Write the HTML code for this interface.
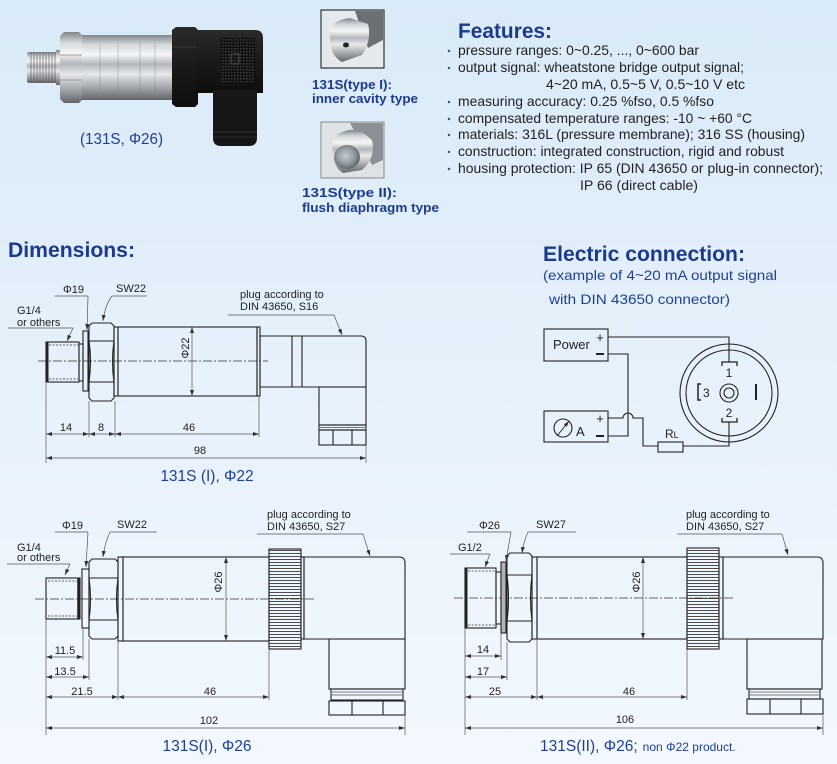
<!DOCTYPE html>
<html><head><meta charset="utf-8"><style>
html,body{margin:0;padding:0;}
body{width:837px;height:764px;overflow:hidden;background:linear-gradient(#d9eaf8,#f3f8fe);}
svg{display:block;font-family:"Liberation Sans",sans-serif;}
.o{fill:none;stroke:#222;stroke-width:1.1}
.d{fill:none;stroke:#555;stroke-width:0.7}
.t{font-size:11px;fill:#222}
.c{stroke:#333;stroke-width:0.8;stroke-dasharray:9 2 2 2;fill:none}
.cap{font-size:15.5px;fill:#1e3f96}
.f{font-size:14px;fill:#222}
.h{font-weight:bold;font-size:21px;fill:#1b3a8c}
</style></head><body>
<svg width="837" height="764" viewBox="0 0 837 764">
<defs>
<marker id="ar" viewBox="0 0 6 4" refX="6" refY="2" markerWidth="6" markerHeight="4" orient="auto-start-reverse" markerUnits="userSpaceOnUse"><path d="M0,0L6,2L0,4z" fill="#333"/></marker>
<linearGradient id="metal" x1="0" y1="0" x2="0" y2="1">
<stop offset="0" stop-color="#7f858a"/><stop offset="0.15" stop-color="#d5d9dc"/><stop offset="0.3" stop-color="#f4f5f6"/><stop offset="0.45" stop-color="#b4b8bc"/><stop offset="0.6" stop-color="#e6e8ea"/><stop offset="0.82" stop-color="#9ea2a6"/><stop offset="1" stop-color="#62666a"/>
</linearGradient>
<linearGradient id="blk" x1="0" y1="0" x2="0" y2="1">
<stop offset="0" stop-color="#2a2a2a"/><stop offset="0.5" stop-color="#1a1a1a"/><stop offset="1" stop-color="#0e0e0e"/>
</linearGradient>
<radialGradient id="dia" cx="0.45" cy="0.45" r="0.6"><stop offset="0" stop-color="#c8ced3"/><stop offset="0.6" stop-color="#8d959b"/><stop offset="1" stop-color="#555b60"/></radialGradient>
<pattern id="grid" width="3" height="3" patternUnits="userSpaceOnUse"><rect width="3" height="3" fill="#111"/><rect width="1.5" height="1.5" fill="#3d3d3d"/></pattern>
<pattern id="kn" width="4" height="3" patternUnits="userSpaceOnUse"><line x1="0" y1="1.5" x2="4" y2="1.5" stroke="#222" stroke-width="0.8"/></pattern>
<pattern id="thr" width="3" height="4" patternUnits="userSpaceOnUse"><rect width="3" height="4" fill="none"/><line x1="1" y1="0" x2="1" y2="4" stroke="#555" stroke-width="0.9"/></pattern>
</defs>

<!-- ===== top photo ===== -->
<g>
<rect x="27" y="52" width="31" height="31" rx="2" fill="url(#metal)"/>
<rect x="29" y="52" width="29" height="31" fill="url(#thr)" opacity="0.7"/>
<rect x="56" y="50" width="6" height="35" fill="url(#metal)"/>
<path d="M60,36 L64,32 H79 L83,36 V99 L79,103 H64 L60,99 Z" fill="url(#metal)"/>
<line x1="60" y1="55" x2="83" y2="55" stroke="#888" stroke-width="0.8"/>
<line x1="60" y1="80" x2="83" y2="80" stroke="#888" stroke-width="0.8"/>
<rect x="82" y="35" width="91" height="65" fill="url(#metal)"/>
<g stroke="#777" stroke-width="0.6" opacity="0.6"><line x1="100" y1="45" x2="100" y2="90"/><line x1="118" y1="42" x2="118" y2="92"/><line x1="140" y1="42" x2="140" y2="92"/><line x1="155" y1="42" x2="155" y2="92"/></g>
<path d="M172,30 L176,27 H195 L198,30 V104 L195,107 H176 L172,104 Z" fill="url(#blk)"/>
<line x1="172" y1="47" x2="198" y2="47" stroke="#3a3a3a"/>
<path d="M196,30 H255 Q263,30 263,38 V93 H196 Z" fill="url(#blk)"/>
<rect x="220" y="38" width="35" height="44" fill="url(#grid)"/>
<rect x="231" y="54" width="8" height="10" fill="none" stroke="#555" stroke-width="0.8"/>
<path d="M213,90 H257 V138 Q257,146 249,146 H221 Q213,146 213,138 Z" fill="#161616"/>
<line x1="213" y1="132" x2="257" y2="132" stroke="#333"/>
<line x1="213" y1="137" x2="257" y2="137" stroke="#2c2c2c"/>
</g>
<text x="80" y="144" class="cap" font-size="15px" textLength="83" lengthAdjust="spacingAndGlyphs">(131S, Φ26)</text>

<!-- small photos -->
<rect x="321" y="10" width="63" height="58" fill="#e4e9ed" stroke="#111" stroke-width="1"/>
<path d="M355,11 L383,11 L383,40 L368,48 Z" fill="#6b7075"/>
<path d="M330,30 Q333,20 350,18 L368,24 Q372,40 362,55 L342,62 Q328,55 330,30 Z" fill="url(#metal)"/>
<ellipse cx="346" cy="45" rx="3" ry="2.5" fill="#222"/>
<text x="312" y="89" font-weight="bold" font-size="13px" fill="#1b3a8c" textLength="80" lengthAdjust="spacingAndGlyphs">131S(type I):</text>
<text x="312" y="103" font-weight="bold" font-size="13px" fill="#1b3a8c" textLength="106" lengthAdjust="spacingAndGlyphs">inner cavity type</text>

<rect x="321" y="122" width="63" height="56" fill="#dde2e6" stroke="#8a8a8a" stroke-width="1"/>
<path d="M350,123 L383,123 L383,160 L372,165 Z" fill="#8a9095"/>
<path d="M333,140 Q340,128 360,130 L372,140 Q376,158 362,170 L343,173 Q330,165 333,140 Z" fill="url(#metal)"/>
<ellipse cx="347" cy="157" rx="13" ry="12" fill="url(#dia)"/>
<text x="302" y="197" font-weight="bold" font-size="13px" fill="#1b3a8c" textLength="95" lengthAdjust="spacingAndGlyphs">131S(type II):</text>
<text x="302" y="212" font-weight="bold" font-size="13px" fill="#1b3a8c" textLength="137" lengthAdjust="spacingAndGlyphs">flush diaphragm type</text>

<!-- features -->
<text x="458" y="38" class="h" textLength="94" lengthAdjust="spacingAndGlyphs">Features:</text>
<g fill="#3a4f8a">
<circle cx="449" cy="51" r="1.2"/><circle cx="449" cy="68" r="1.2"/><circle cx="449" cy="102" r="1.2"/><circle cx="449" cy="119" r="1.2"/><circle cx="449" cy="135" r="1.2"/><circle cx="449" cy="152" r="1.2"/><circle cx="449" cy="169" r="1.2"/>
</g>
<text x="458" y="55" class="f" textLength="241" lengthAdjust="spacingAndGlyphs">pressure ranges: 0~0.25, ..., 0~600 bar</text>
<text x="458" y="72" class="f" textLength="286" lengthAdjust="spacingAndGlyphs">output signal: wheatstone bridge output signal;</text>
<text x="546" y="89" class="f" textLength="199" lengthAdjust="spacingAndGlyphs">4~20 mA, 0.5~5 V, 0.5~10 V etc</text>
<text x="458" y="106" class="f" textLength="256" lengthAdjust="spacingAndGlyphs">measuring accuracy: 0.25 %fso, 0.5 %fso</text>
<text x="458" y="123" class="f" textLength="294" lengthAdjust="spacingAndGlyphs">compensated temperature ranges: -10 ~ +60 °C</text>
<text x="458" y="139" class="f" textLength="347" lengthAdjust="spacingAndGlyphs">materials: 316L (pressure membrane); 316 SS (housing)</text>
<text x="458" y="156" class="f" textLength="326" lengthAdjust="spacingAndGlyphs">construction: integrated construction, rigid and robust</text>
<text x="458" y="173" class="f" textLength="365" lengthAdjust="spacingAndGlyphs">housing protection: IP 65 (DIN 43650 or plug-in connector);</text>
<text x="580" y="190" class="f" textLength="118" lengthAdjust="spacingAndGlyphs">IP 66 (direct cable)</text>

<!-- headings -->
<text x="8" y="257" class="h" textLength="127" lengthAdjust="spacingAndGlyphs">Dimensions:</text>
<text x="543" y="261" class="h" textLength="202" lengthAdjust="spacingAndGlyphs">Electric connection:</text>
<text x="543" y="280" font-size="14px" fill="#1e3f96" textLength="234" lengthAdjust="spacingAndGlyphs">(example of 4~20 mA output signal</text>
<text x="549" y="304" font-size="14px" fill="#1e3f96" textLength="181" lengthAdjust="spacingAndGlyphs">with DIN 43650 connector)</text>

<!-- ===== Diagram 1 ===== -->
<g>
<line x1="38" y1="361" x2="268" y2="361" class="c"/>
<rect x="46" y="342" width="33" height="40" class="o"/>
<line x1="47.5" y1="342" x2="47.5" y2="382" stroke="#222" stroke-width="2"/>
<line x1="49" y1="345" x2="78" y2="345" stroke="#333" stroke-width="0.8" stroke-dasharray="2 1.5"/>
<line x1="49" y1="379" x2="78" y2="379" stroke="#333" stroke-width="0.8" stroke-dasharray="2 1.5"/>
<rect x="79" y="344" width="4" height="37" class="o"/>
<rect x="83" y="331" width="5" height="60" class="o"/>
<path d="M92,323 H111 L114,326 V398 L111,401 H92 L89,398 V326 Z" class="o"/>
<line x1="89" y1="341" x2="114" y2="341" class="o"/><line x1="89" y1="382" x2="114" y2="382" class="o"/>
<path d="M89,341 Q92,361 89,382 M114,341 Q111,361 114,382" class="o" stroke-width="0.8"/>
<rect x="114" y="327" width="4" height="69" class="o"/>
<rect x="118" y="327" width="139" height="69" class="o"/>
<rect x="257" y="327" width="3" height="69" class="o"/>
<path d="M260,336 H361 Q366,336 366,341 V387 H260 Z" class="o"/>
<line x1="292" y1="336" x2="292" y2="387" class="o"/><line x1="302" y1="336" x2="302" y2="387" class="o"/>
<rect x="319" y="387" width="47" height="38" class="o"/>
<rect x="319" y="425" width="47" height="5" class="o"/><line x1="320" y1="427.5" x2="365" y2="427.5" stroke="#555" stroke-width="0.7"/>
<rect x="319" y="430" width="47" height="15" class="o"/>
<line x1="333" y1="430" x2="333" y2="445" class="o"/><line x1="352" y1="430" x2="352" y2="445" class="o"/>
<line x1="192" y1="327" x2="192" y2="396" class="d" marker-start="url(#ar)" marker-end="url(#ar)"/>
<text transform="translate(189,348) rotate(-90)" class="t" text-anchor="middle">Φ22</text>
<line x1="46" y1="382" x2="46" y2="463" class="d"/>
<line x1="89" y1="401" x2="89" y2="437" class="d"/>
<line x1="115" y1="401" x2="115" y2="437" class="d"/>
<line x1="259" y1="396" x2="259" y2="437" class="d"/>
<line x1="366" y1="445" x2="366" y2="463" class="d"/>
<line x1="46" y1="434" x2="89" y2="434" class="d" marker-start="url(#ar)" marker-end="url(#ar)"/>
<line x1="89" y1="434" x2="115" y2="434" class="d" marker-start="url(#ar)" marker-end="url(#ar)"/>
<line x1="115" y1="434" x2="259" y2="434" class="d" marker-start="url(#ar)" marker-end="url(#ar)"/>
<line x1="46" y1="458" x2="366" y2="458" class="d" marker-start="url(#ar)" marker-end="url(#ar)"/>
<text x="66" y="431" class="t" text-anchor="middle">14</text>
<text x="101" y="431" class="t" text-anchor="middle">8</text>
<text x="189" y="431" class="t" text-anchor="middle">46</text>
<text x="200" y="454" class="t" text-anchor="middle">98</text>
<text x="63" y="293" class="t">Φ19</text>
<line x1="55" y1="296" x2="88" y2="296" class="d"/><line x1="88" y1="296" x2="87" y2="330" class="d" marker-end="url(#ar)"/>
<text x="116" y="292" class="t">SW22</text>
<line x1="112" y1="296" x2="147" y2="296" class="d"/><path d="M112,296 Q105,305 103,321" class="d" marker-end="url(#ar)"/>
<text x="17" y="314" class="t">G1/4</text><text x="17" y="326" class="t">or others</text>
<line x1="8" y1="328" x2="73" y2="328" class="d"/><line x1="73" y1="328" x2="67" y2="341" class="d" marker-end="url(#ar)"/>
<text x="240" y="298" class="t">plug according to</text><text x="240" y="310" class="t">DIN 43650, S16</text>
<line x1="228" y1="315" x2="334" y2="315" class="d"/><line x1="334" y1="315" x2="342" y2="335" class="d" marker-end="url(#ar)"/>
<text x="207" y="481" class="cap" text-anchor="middle">131S (I), Φ22</text>
</g>

<!-- ===== Electric connection ===== -->
<g class="o" stroke-width="1">
<rect x="544" y="329" width="64" height="32"/>
<rect x="544" y="411" width="64" height="31"/>
<circle cx="563" cy="428" r="9"/>
<path d="M608,337 H729 V362"/>
<path d="M608,354 H628 V436 H608"/>
<path d="M608,418 H623 A5,5 0 0 1 633,418 H643 V446 H658"/>
<rect x="658" y="442" width="25" height="10"/>
<path d="M683,446 H729 V422"/>
<circle cx="729" cy="393" r="49"/>
<circle cx="729" cy="393" r="43"/>
<circle cx="729" cy="393" r="9"/>
<circle cx="729" cy="393" r="5"/>
<path d="M722,366 V362 H737 V366" stroke-width="1.3"/>
<path d="M722,418 V422 H737 V418" stroke-width="1.3"/>
<path d="M701,384 H698 V400 H701" stroke-width="1.5"/>
</g>
<line x1="557" y1="436" x2="569" y2="421" stroke="#222" stroke-width="1" marker-end="url(#ar)"/>
<line x1="756" y1="384" x2="756" y2="400" stroke="#222" stroke-width="2"/>
<text x="553" y="349" font-size="13px" fill="#222">Power</text>
<text x="600" y="342" font-size="13px" fill="#222" text-anchor="middle">+</text>
<rect x="596" y="353" width="8" height="2" fill="#222"/>
<text x="600" y="423" font-size="13px" fill="#222" text-anchor="middle">+</text>
<rect x="596" y="435" width="8" height="2" fill="#222"/>
<text x="576" y="436" font-size="13px" fill="#222">A</text>
<text x="665" y="438" font-size="12px" fill="#222">R<tspan font-size="9px">L</tspan></text>
<text x="729" y="377" font-size="12px" fill="#222" text-anchor="middle">1</text>
<text x="729" y="417" font-size="12px" fill="#222" text-anchor="middle">2</text>
<text x="703" y="397" font-size="12px" fill="#222">3</text>

<!-- ===== Diagram 2 ===== -->
<g>
<line x1="35" y1="599" x2="315" y2="599" class="c"/>
<rect x="46" y="578" width="34" height="41" class="o"/>
<line x1="78.5" y1="578" x2="78.5" y2="619" stroke="#222" stroke-width="2.5"/>
<line x1="48" y1="581" x2="77" y2="581" stroke="#333" stroke-width="0.8" stroke-dasharray="2 1.5"/>
<line x1="48" y1="616" x2="77" y2="616" stroke="#333" stroke-width="0.8" stroke-dasharray="2 1.5"/>
<rect x="82" y="569" width="7" height="59" class="o"/>
<path d="M92,559 H115 L118,562 V636 L115,639 H92 L89,636 V562 Z" class="o"/>
<line x1="89" y1="578" x2="118" y2="578" class="o"/><line x1="89" y1="620" x2="118" y2="620" class="o"/>
<path d="M89,578 Q92,599 89,620 M118,578 Q115,599 118,620" class="o" stroke-width="0.8"/>
<rect x="118" y="557" width="5" height="84" class="o"/>
<rect x="123" y="557" width="146" height="84" class="o"/>
<rect x="269" y="549" width="32" height="100" fill="url(#kn)" stroke="#222" stroke-width="1.1"/>
<rect x="301" y="557" width="3" height="82" class="o"/>
<path d="M304,557 H399 Q405,557 405,563 V639 H304 Z" class="o"/>
<rect x="329" y="639" width="76" height="50" class="o"/>
<rect x="331" y="689" width="72" height="11" class="o"/>
<line x1="332" y1="692" x2="402" y2="692" stroke="#555" stroke-width="0.7"/><line x1="332" y1="695" x2="402" y2="695" stroke="#555" stroke-width="0.7"/>
<rect x="329" y="701" width="76" height="14" class="o"/>
<line x1="352" y1="701" x2="352" y2="715" class="o"/><line x1="383" y1="701" x2="383" y2="715" class="o"/>
<line x1="226" y1="557" x2="226" y2="641" class="d" marker-start="url(#ar)" marker-end="url(#ar)"/>
<text transform="translate(222,582) rotate(-90)" class="t" text-anchor="middle">Φ26</text>
<line x1="46" y1="619" x2="46" y2="735" class="d"/>
<line x1="83" y1="628" x2="83" y2="660" class="d"/>
<line x1="89" y1="639" x2="89" y2="680" class="d"/>
<line x1="118" y1="641" x2="118" y2="700" class="d"/>
<line x1="269" y1="649" x2="269" y2="700" class="d"/>
<line x1="405" y1="715" x2="405" y2="735" class="d"/>
<line x1="46" y1="657" x2="83" y2="657" class="d" marker-start="url(#ar)" marker-end="url(#ar)"/>
<line x1="46" y1="677" x2="89" y2="677" class="d" marker-start="url(#ar)" marker-end="url(#ar)"/>
<line x1="46" y1="697" x2="118" y2="697" class="d" marker-start="url(#ar)" marker-end="url(#ar)"/>
<line x1="118" y1="697" x2="269" y2="697" class="d" marker-start="url(#ar)" marker-end="url(#ar)"/>
<line x1="46" y1="728" x2="405" y2="728" class="d" marker-start="url(#ar)" marker-end="url(#ar)"/>
<text x="65" y="654" class="t" text-anchor="middle">11.5</text>
<text x="65" y="675" class="t" text-anchor="middle">13.5</text>
<text x="82" y="695" class="t" text-anchor="middle">21.5</text>
<text x="210" y="695" class="t" text-anchor="middle">46</text>
<text x="209" y="724" class="t" text-anchor="middle">102</text>
<text x="62" y="529" class="t">Φ19</text>
<line x1="55" y1="532" x2="88" y2="532" class="d"/><line x1="88" y1="532" x2="86" y2="567" class="d" marker-end="url(#ar)"/>
<text x="117" y="528" class="t">SW22</text>
<line x1="110" y1="532" x2="157" y2="532" class="d"/><path d="M110,532 Q105,542 103,557" class="d" marker-end="url(#ar)"/>
<text x="17" y="551" class="t">G1/4</text><text x="17" y="561" class="t">or others</text>
<line x1="7" y1="564" x2="70" y2="564" class="d"/><line x1="70" y1="564" x2="65" y2="575" class="d" marker-end="url(#ar)"/>
<text x="267" y="518" class="t">plug according to</text><text x="267" y="530" class="t">DIN 43650, S27</text>
<line x1="257" y1="534" x2="363" y2="534" class="d"/><line x1="363" y1="534" x2="370" y2="556" class="d" marker-end="url(#ar)"/>
<text x="207" y="751" class="cap" text-anchor="middle">131S(I), Φ26</text>
</g>

<!-- ===== Diagram 3 ===== -->
<g>
<line x1="454" y1="598" x2="734" y2="598" class="c"/>
<rect x="465" y="568" width="31" height="60" class="o"/>
<line x1="466.5" y1="568" x2="466.5" y2="628" stroke="#222" stroke-width="2"/>
<line x1="468" y1="571" x2="495" y2="571" stroke="#333" stroke-width="0.8" stroke-dasharray="2 1.5"/>
<line x1="468" y1="625" x2="495" y2="625" stroke="#333" stroke-width="0.8" stroke-dasharray="2 1.5"/>
<rect x="496" y="572" width="5" height="52" class="o"/>
<rect x="501" y="562" width="5" height="71" fill="#b0b4b8" stroke="#222" stroke-width="1.1"/>
<path d="M510,553 H529 L532,556 V639 L529,642 H510 L507,639 V556 Z" class="o"/>
<line x1="507" y1="575" x2="532" y2="575" class="o"/><line x1="507" y1="621" x2="532" y2="621" class="o"/>
<path d="M507,575 Q510,598 507,621 M532,575 Q529,598 532,621" class="o" stroke-width="0.8"/>
<rect x="532" y="557" width="5" height="82" class="o"/>
<rect x="537" y="557" width="150" height="82" class="o"/>
<rect x="687" y="548" width="32" height="101" fill="url(#kn)" stroke="#222" stroke-width="1.1"/>
<rect x="719" y="557" width="4" height="82" class="o"/>
<path d="M723,557 H817 Q823,557 823,563 V639 H723 Z" class="o"/>
<rect x="747" y="639" width="75" height="50" class="o"/>
<rect x="749" y="689" width="71" height="10" class="o"/>
<line x1="750" y1="692" x2="819" y2="692" stroke="#555" stroke-width="0.7"/><line x1="750" y1="695" x2="819" y2="695" stroke="#555" stroke-width="0.7"/>
<rect x="747" y="699" width="76" height="15" class="o"/>
<line x1="770" y1="699" x2="770" y2="714" class="o"/><line x1="801" y1="699" x2="801" y2="714" class="o"/>
<line x1="643" y1="557" x2="643" y2="639" class="d" marker-start="url(#ar)" marker-end="url(#ar)"/>
<text transform="translate(640,582) rotate(-90)" class="t" text-anchor="middle">Φ26</text>
<line x1="465" y1="628" x2="465" y2="735" class="d"/>
<line x1="501" y1="633" x2="501" y2="660" class="d"/>
<line x1="507" y1="642" x2="507" y2="680" class="d"/>
<line x1="537" y1="639" x2="537" y2="700" class="d"/>
<line x1="687" y1="649" x2="687" y2="700" class="d"/>
<line x1="823" y1="714" x2="823" y2="735" class="d"/>
<line x1="465" y1="656" x2="501" y2="656" class="d" marker-start="url(#ar)" marker-end="url(#ar)"/>
<line x1="465" y1="677" x2="507" y2="677" class="d" marker-start="url(#ar)" marker-end="url(#ar)"/>
<line x1="465" y1="697" x2="537" y2="697" class="d" marker-start="url(#ar)" marker-end="url(#ar)"/>
<line x1="537" y1="697" x2="687" y2="697" class="d" marker-start="url(#ar)" marker-end="url(#ar)"/>
<line x1="465" y1="728" x2="823" y2="728" class="d" marker-start="url(#ar)" marker-end="url(#ar)"/>
<text x="483" y="653" class="t" text-anchor="middle">14</text>
<text x="483" y="675" class="t" text-anchor="middle">17</text>
<text x="495" y="695" class="t" text-anchor="middle">25</text>
<text x="629" y="695" class="t" text-anchor="middle">46</text>
<text x="625" y="723" class="t" text-anchor="middle">106</text>
<text x="479" y="529" class="t">Φ26</text>
<line x1="467" y1="532" x2="511" y2="532" class="d"/><line x1="511" y1="532" x2="506" y2="561" class="d" marker-end="url(#ar)"/>
<text x="536" y="528" class="t">SW27</text>
<line x1="528" y1="532" x2="576" y2="532" class="d"/><path d="M528,532 Q524,540 522,553" class="d" marker-end="url(#ar)"/>
<text x="458" y="551" class="t">G1/2</text>
<line x1="450" y1="554" x2="490" y2="554" class="d"/><line x1="490" y1="554" x2="485" y2="567" class="d" marker-end="url(#ar)"/>
<text x="686" y="518" class="t">plug according to</text><text x="686" y="530" class="t">DIN 43650, S27</text>
<line x1="677" y1="534" x2="782" y2="534" class="d"/><line x1="782" y1="534" x2="788" y2="555" class="d" marker-end="url(#ar)"/>
<text x="540" y="751" class="cap">131S(II), Φ26;<tspan font-size="12px" dx="5">non Φ22 product.</tspan></text>
</g>
</svg>
</body></html>
